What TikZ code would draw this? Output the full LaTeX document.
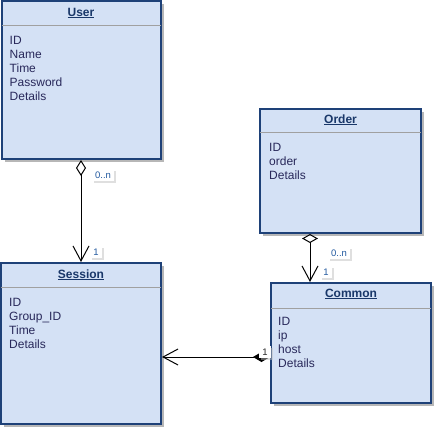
\documentclass[tikz,border=0pt]{standalone}
\usepackage{fontspec}
\setmainfont{Liberation Sans}
\usetikzlibrary{arrows.meta,shadows,calc}
\definecolor{boxfill}{RGB}{212,225,245}
\definecolor{boxline}{RGB}{30,65,120}
\definecolor{titlecol}{RGB}{25,55,105}
\definecolor{attrcol}{RGB}{40,40,90}
\definecolor{labcol}{RGB}{35,90,160}
\definecolor{sepcol}{RGB}{160,160,160}
\tikzset{
  classbox/.style={draw=boxline, line width=2pt, fill=boxfill, rectangle, inner sep=0pt,
    drop shadow={shadow xshift=3pt, shadow yshift=-3pt, fill=black!40, opacity=0.7}},
  classtitle/.style={font=\fontsize{12}{14}\selectfont\bfseries, text=titlecol, inner sep=0pt, anchor=base},
  attr/.style={font=\fontsize{12}{14}\selectfont, text=attrcol, inner sep=0pt, anchor=base west},
  sepline/.style={draw=sepcol, line width=1pt},
  mult/.style={font=\fontsize{9.5}{10}\selectfont, text=labcol, fill=white, inner xsep=3.5pt, inner ysep=3pt,
    drop shadow={shadow xshift=2pt, shadow yshift=-2pt, fill=black!25, opacity=0.5}},
  assoc/.style={draw=black, line width=1pt},
}
\begin{document}
\begin{tikzpicture}[x=1pt,y=-1pt]
\useasboundingbox (0,0) rectangle (439,434);
% class boxes
\node[classbox, minimum width=159pt, minimum height=158pt] (user) at (81,80) {};
\node[classbox, minimum width=160pt, minimum height=161pt] (session) at (81,343.5) {};
\node[classbox, minimum width=161pt, minimum height=124pt] (order) at (340.5,171) {};
\node[classbox, minimum width=160pt, minimum height=120pt] (common) at (351,343) {};
% separators
\draw[sepline] ($(user.north west)+(1,25)$) -- ($(user.north east)+(-1,25)$);
\draw[sepline] ($(session.north west)+(1,25)$) -- ($(session.north east)+(-1,25)$);
\draw[sepline] ($(order.north west)+(1,24)$) -- ($(order.north east)+(-1,24)$);
\draw[sepline] ($(common.north west)+(1,26)$) -- ($(common.north east)+(-1,26)$);
% titles
\node[classtitle] (user-t) at ($(user.north)+(0,16)$) {\underline{User}};
\node[classtitle] (session-t) at ($(session.north)+(0,16)$) {\underline{Session}};
\node[classtitle] (order-t) at ($(order.north)+(0,15)$) {\underline{Order}};
\node[classtitle] (common-t) at ($(common.north)+(0,15)$) {\underline{Common}};
% attributes
\foreach \t [count=\i] in {ID,Name,Time,Password,Details}
  \node[attr] (user-a\i) at ($(user.north west)+(9,44+14*\i-14)$) {\t};
\foreach \t [count=\i] in {ID,Group\_ID,Time,Details}
  \node[attr] (session-a\i) at ($(session.north west)+(9,44+14*\i-14)$) {\t};
\foreach \t [count=\i] in {ID,order,Details}
  \node[attr] (order-a\i) at ($(order.north west)+(10,43+14*\i-14)$) {\t};
\foreach \t [count=\i] in {ID,ip,host,Details}
  \node[attr] (common-a\i) at ($(common.north west)+(8,43+14*\i-14)$) {\t};
% connectors
\coordinate (cx) at (310,0);
\coordinate (hy) at (0,357);
\draw[assoc, {Diamond[open,width=10pt,length=16pt]}-{Straight Barb[width=16pt,length=15pt]}]
  (user.south) -- (session.north);
\draw[assoc, {Diamond[open,width=16pt,length=9pt]}-{Straight Barb[width=16pt,length=15pt]}]
  (order.south -| cx) -- (common.north -| cx);
\draw[assoc, {Diamond[width=10pt,length=17pt]}-{Straight Barb[width=16pt,length=15pt]}]
  (common.west |- hy) -- (session.east |- hy);
% multiplicities
\node[mult] (m1) at (103,175) {0..n};
\node[mult] (m2) at (96,252) {1};
\node[mult] (m3) at (339,253) {0..n};
\node[mult] (m4) at (326,272) {1};
\node[mult, text=black!85] (m5) at (265,352) {1};
\end{tikzpicture}
\end{document}
